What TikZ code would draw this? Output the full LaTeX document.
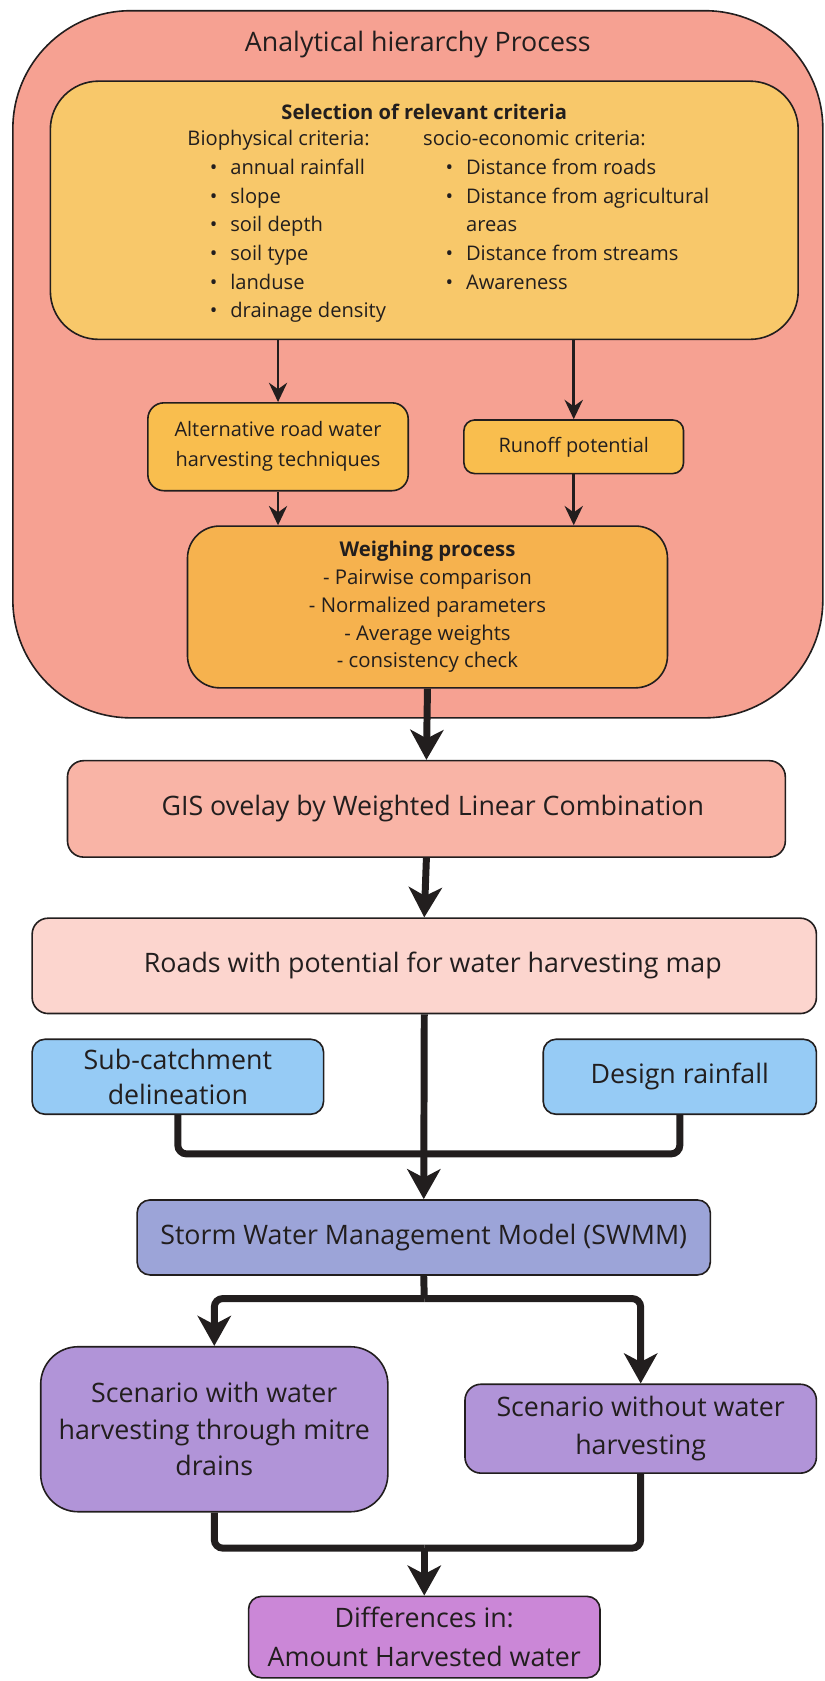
\documentclass[tikz,border=0pt]{standalone}
\usepackage{fontspec}
\setmainfont{Open Sans}
\usepackage{tikz}
\usepackage{xcolor}
\usetikzlibrary{arrows.meta}
\definecolor{ahpred}{RGB}{246, 161, 146}
\definecolor{crityellow}{RGB}{248, 200, 106}
\definecolor{stepyellow}{RGB}{249, 190, 78}
\definecolor{weighorange}{RGB}{246, 178, 78}
\definecolor{gissalmon}{RGB}{249, 180, 166}
\definecolor{roadpink}{RGB}{252, 213, 206}
\definecolor{inputblue}{RGB}{150, 203, 245}
\definecolor{swmmblue}{RGB}{156, 164, 216}
\definecolor{scenpurple}{RGB}{177, 148, 216}
\definecolor{diffpurple}{RGB}{203, 135, 215}
\definecolor{inkdark}{RGB}{34, 30, 30}
\tikzset{
    box/.style={
        draw=inkdark,
        line width=1.5pt,
        text=inkdark,
        align=center,
        inner sep=0pt,
    },
    thinarrow/.style={
        draw=inkdark,
        line width=2.5pt,
        -{Stealth[length=18pt, width=17pt, inset=6pt]},
    },
    thickline/.style={
        draw=inkdark,
        line width=6.5pt,
        rounded corners=8pt,
    },
    thickarrow/.style={
        thickline,
        -{Stealth[length=28pt, width=31pt, inset=8pt]},
    },
}
\newcommand{\critem}[1]{\hspace*{21pt}\makebox[19pt][l]{\textbullet}#1}

\begin{document}
\begin{tikzpicture}[x=1pt, y=-1pt]
    \useasboundingbox (0,0) rectangle (770,1569);
    % AHP block
    \node[box, fill=ahpred, rounded corners=110pt,
        minimum width=756pt, minimum height=660pt,
        label={[anchor=north, yshift=-16pt, text=inkdark, font=\fontsize{25}{30}\selectfont]north:Analytical hierarchy Process}]
        (ahp) at (390,340) {};
    \node[box, fill=crityellow, rounded corners=45pt,
        minimum width=698pt, minimum height=241pt,
        font=\fontsize{18.8}{26.8}\selectfont, anchor=north]
        (sel) at (396,75) {%
        \begin{minipage}[t]{698pt}
            \vspace*{9pt}
            \centering\textbf{Selection of relevant criteria}\\[-2pt]
            \raggedright
            \hspace*{128pt}\begin{tabular}[t]{@{}p{220pt}@{}}
                Biophysical criteria:\\
                \critem{annual rainfall}\\
                \critem{slope}\\
                \critem{soil depth}\\
                \critem{soil type}\\
                \critem{landuse}\\
                \critem{drainage density}
            \end{tabular}%
            \begin{tabular}[t]{@{}l@{}}
                socio-economic criteria:\\
                \critem{Distance from roads}\\
                \critem{Distance from agricultural}\\
                \hspace*{40pt}areas\\
                \critem{Distance from streams}\\
                \critem{Awareness}
            \end{tabular}
        \end{minipage}};
    \node[box, fill=stepyellow, rounded corners=15pt,
        minimum width=243pt, minimum height=82pt,
        font=\fontsize{18.6}{28}\selectfont]
        (alt) at (259.5,417) {Alternative road water\\harvesting techniques};
    \node[box, fill=stepyellow, rounded corners=10pt,
        minimum width=205pt, minimum height=50pt,
        font=\fontsize{18.6}{28}\selectfont]
        (run) at (535.5,417) {Runoff potential};
    \node[box, fill=weighorange, rounded corners=30pt,
        minimum width=448pt, minimum height=151pt,
        font=\fontsize{19}{26}\selectfont]
        (weigh) at (399,566.5) {\textbf{Weighing process}\\- Pairwise comparison\\- Normalized parameters\\- Average weights\\- consistency check};
    % GIS and model chain
    \node[box, fill=gissalmon, rounded corners=15pt,
        minimum width=670pt, minimum height=90pt,
        font=\fontsize{25}{30}\selectfont]
        (gis) at (398,755) {\hspace*{12pt}GIS ovelay by Weighted Linear Combination};
    \node[box, fill=roadpink, rounded corners=15pt,
        minimum width=732pt, minimum height=89pt,
        font=\fontsize{25}{30}\selectfont]
        (roads) at (396,901.5) {\hspace*{16pt}Roads with potential for water harvesting map};
    \node[box, fill=inputblue, rounded corners=12pt,
        minimum width=272pt, minimum height=70pt,
        font=\fontsize{25}{33}\selectfont]
        (sub) at (166,1005) {Sub-catchment\\delineation};
    \node[box, fill=inputblue, rounded corners=12pt,
        minimum width=255pt, minimum height=70pt,
        font=\fontsize{25}{33}\selectfont]
        (des) at (634.5,1005) {Design rainfall};
    \node[box, fill=swmmblue, rounded corners=12pt,
        minimum width=535pt, minimum height=70pt,
        font=\fontsize{25}{30}\selectfont]
        (swmm) at (395.5,1155) {Storm Water Management Model (SWMM)};
    \node[box, fill=scenpurple, rounded corners=35pt,
        minimum width=324pt, minimum height=154pt,
        font=\fontsize{25}{34}\selectfont]
        (scena) at (200,1334) {Scenario with water\\harvesting through mitre\\drains};
    \node[box, fill=scenpurple, rounded corners=15pt,
        minimum width=328pt, minimum height=83pt,
        font=\fontsize{25}{35}\selectfont]
        (scenb) at (598,1333.5) {Scenario without water\\harvesting};
    \node[box, fill=diffpurple, rounded corners=12pt,
        minimum width=328pt, minimum height=76pt,
        font=\fontsize{25}{36}\selectfont]
        (diff) at (396,1528) {Differences in:\\Amount Harvested water};
    \coordinate (inputjoin) at (396,1077);
    \coordinate (swmmsplit) at (396,1212);
    \coordinate (scenjoin) at (396,1445);

    % connectors
    \draw[thinarrow] (alt |- sel.south) -- (alt.north);
    \draw[thinarrow] (run |- sel.south) -- (run.north);
    \draw[thinarrow] (alt.south) -- (alt.south |- weigh.north);
    \draw[thinarrow] (run.south) -- (run.south |- weigh.north);
    \draw[thickarrow] (weigh.south) -- (gis.north);
    \draw[thickarrow] (gis.south) -- (roads.north);
    \draw[thickline] (sub.south) |- (inputjoin);
    \draw[thickline] (des.south) |- (inputjoin);
    \draw[thickarrow] (roads.south) -- (swmm.north);
    \draw[thickline] (swmm.south) -- (swmmsplit);
    \draw[thickarrow] (swmmsplit) -| (scena.north);
    \draw[thickarrow] (swmmsplit) -| (scenb.north);
    \draw[thickline] (scena.south) |- (scenjoin);
    \draw[thickline] (scenb.south) |- (scenjoin);
    \draw[thickarrow] (scenjoin) -- (diff.north);
\end{tikzpicture}
\end{document}
